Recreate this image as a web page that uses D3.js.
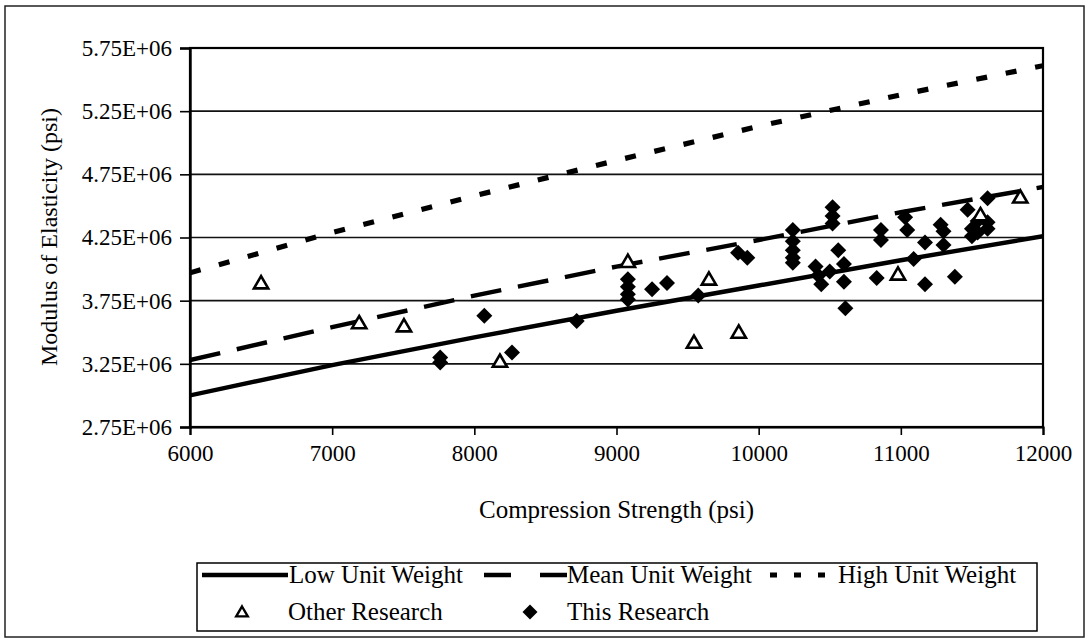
<!DOCTYPE html>
<html><head><meta charset="utf-8">
<script src="https://cdn.jsdelivr.net/npm/d3@7"></script>
<style>
html,body{margin:0;padding:0;background:#fff;}
text{font-family:"Liberation Serif","Times New Roman",serif;fill:#000;}
</style></head>
<body><svg id="chart" width="1088" height="639"></svg>
<script>
// ---- data ----
const xTicks = [6000, 7000, 8000, 9000, 10000, 11000, 12000];
const yTicks = [2750000, 3250000, 3750000, 4250000, 4750000, 5250000, 5750000];
const yTickLabels = ["2.75E+06","3.25E+06","3.75E+06","4.25E+06","4.75E+06","5.25E+06","5.75E+06"];

const lineStrength = [6000, 7000, 8000, 9000, 10000, 11000, 12000];
const lowWeight  = [3000000, 3240000, 3460000, 3670000, 3870000, 4070000, 4260000];
const meanWeight = [3280000, 3540000, 3790000, 4020000, 4230000, 4450000, 4650000];
const highWeight = [3970000, 4290000, 4580000, 4860000, 5130000, 5380000, 5610000];

const otherX = [6500, 7190, 7505, 8180, 9080, 9650, 9545, 9860, 10980, 11840, 11560];
const otherY = [3890000, 3575000, 3550000, 3270000, 4060000, 3920000, 3420000, 3500000, 3960000, 4570000, 4430000];

const thisX = [7760, 7760, 8070, 8265, 8720, 9080, 9080, 9080, 9080, 9250, 9355, 9575, 9855, 9920,
  10240, 10240, 10240, 10240, 10240, 10400, 10420, 10440, 10500, 10520, 10520, 10520, 10560, 10600, 10600, 10610,
  10830, 10860, 10860, 11030, 11045, 11090, 11170, 11170, 11280, 11300, 11300, 11380, 11470, 11500, 11500,
  11540, 11540, 11610, 11610, 11610];
const thisY = [3300000, 3260000, 3630000, 3340000, 3590000, 3920000, 3860000, 3800000, 3760000, 3840000, 3890000, 3790000, 4130000, 4090000,
  4310000, 4220000, 4150000, 4090000, 4050000, 4020000, 3950000, 3880000, 3980000, 4490000, 4420000, 4360000, 4150000, 4040000, 3900000, 3690000,
  3930000, 4310000, 4230000, 4410000, 4310000, 4080000, 4210000, 3880000, 4350000, 4300000, 4190000, 3940000, 4470000, 4320000, 4260000,
  4380000, 4290000, 4560000, 4370000, 4320000];

const seriesNames = ["Low Unit Weight", "Mean Unit Weight", "High Unit Weight", "Other Research", "This Research"];
const xTitle = "Compression Strength (psi)";
const yTitle = "Modulus of Elasticity (psi)";

// ---- layout ----
const svg = d3.select("#chart");
const L = 190, R = 1043, T = 48, B = 427;
const x = d3.scaleLinear().domain([6000, 12000]).range([L, R]);
const y = d3.scaleLinear().domain([2750000, 5750000]).range([B, T]);

// outer frame
svg.append("rect").attr("x", 5).attr("y", 6).attr("width", 1079).attr("height", 631)
  .attr("fill", "none").attr("stroke", "#222").attr("stroke-width", 1.5);

// gridlines
svg.append("g").selectAll("line").data(yTicks).join("line")
  .attr("x1", L).attr("x2", R).attr("y1", d => y(d)).attr("y2", d => y(d))
  .attr("stroke", "#111").attr("stroke-width", 1.6);

// plot frame
svg.append("rect").attr("x", L).attr("y", T).attr("width", R - L).attr("height", B - T)
  .attr("fill", "none").attr("stroke", "#000").attr("stroke-width", 2.2);

// axes
const yAxis = d3.axisLeft(y).tickValues(yTicks).tickSize(10).tickPadding(8)
  .tickFormat((d, i) => yTickLabels[i]);
const gy = svg.append("g").attr("transform", `translate(${L},0)`).call(yAxis);
gy.select(".domain").attr("stroke-width", 2.4);
gy.selectAll(".tick line").attr("stroke-width", 1.6);
gy.selectAll("text").style("font-size", "23px");

const xAxis = d3.axisBottom(x).tickValues(xTicks).tickSize(8).tickPadding(10).tickFormat(d3.format("d"));
const gx = svg.append("g").attr("transform", `translate(0,${B})`).call(xAxis);
gx.select(".domain").attr("stroke-width", 2.2);
gx.selectAll(".tick line").attr("stroke-width", 1.6);
gx.selectAll("text").style("font-size", "23px");

// titles
svg.append("text").attr("x", (L + R) / 2).attr("y", 518).attr("text-anchor", "middle")
  .style("font-size", "25px").text(xTitle);
svg.append("text").attr("transform", "translate(57,237) rotate(-90)").attr("text-anchor", "middle")
  .style("font-size", "24px").text(yTitle);

// lines
const styles = [
  {w: 4.4, dash: null},
  {w: 4.4, dash: "31,17"},
  {w: 5.2, dash: "11,19"}
];
const lineData = [lowWeight, meanWeight, highWeight];
const lineGen = d3.line().x(d => x(d[0])).y(d => y(d[1]));
svg.append("clipPath").attr("id", "pc").append("rect")
  .attr("x", L).attr("y", T).attr("width", R - L).attr("height", B - T);
lineData.forEach((vals, i) => {
  svg.append("path").attr("clip-path", "url(#pc)")
    .datum(lineStrength.map((s, j) => [s, vals[j]]))
    .attr("d", lineGen).attr("fill", "none").attr("stroke", "#000")
    .attr("stroke-width", styles[i].w).attr("stroke-dasharray", styles[i].dash);
});

// markers
const diamond = (s) => `M0,${-s}L${s},0L0,${s}L${-s},0Z`;
const tri = (s) => `M0,${-s}L${s*1.05},${s*0.8}L${-s*1.05},${s*0.8}Z`;

svg.append("g").selectAll("path").data(thisX.map((v, i) => [v, thisY[i]])).join("path")
  .attr("transform", d => `translate(${x(d[0])},${y(d[1])})`)
  .attr("d", diamond(8)).attr("fill", "#000");

svg.append("g").selectAll("path").data(otherX.map((v, i) => [v, otherY[i]])).join("path")
  .attr("transform", d => `translate(${x(d[0])},${y(d[1])})`)
  .attr("d", tri(6.8)).attr("fill", "#fff").attr("stroke", "#000").attr("stroke-width", 2.6);

// legend
const lg = svg.append("g");
lg.append("rect").attr("x", 197).attr("y", 563).attr("width", 840).attr("height", 68)
  .attr("fill", "#fff").attr("stroke", "#000").attr("stroke-width", 1.5);
const row1 = 575, row2 = 612, fs = "25px";
// low
lg.append("line").attr("x1", 202).attr("x2", 288).attr("y1", row1).attr("y2", row1)
  .attr("stroke", "#000").attr("stroke-width", 4.4);
lg.append("text").attr("x", 289).attr("y", row1 + 8).style("font-size", fs).text(seriesNames[0]);
// mean
lg.append("line").attr("x1", 484).attr("x2", 567).attr("y1", row1).attr("y2", row1)
  .attr("stroke", "#000").attr("stroke-width", 4.4).attr("stroke-dasharray", "27,29");
lg.append("text").attr("x", 567).attr("y", row1 + 8).style("font-size", fs).text(seriesNames[1]);
// high
lg.append("line").attr("x1", 770).attr("x2", 826).attr("y1", row1).attr("y2", row1)
  .attr("stroke", "#000").attr("stroke-width", 5.2).attr("stroke-dasharray", "7,17");
lg.append("text").attr("x", 838).attr("y", row1 + 8).style("font-size", fs).text(seriesNames[2]);
// other
lg.append("path").attr("transform", `translate(242,${row2})`).attr("d", tri(5.5))
  .attr("fill", "#fff").attr("stroke", "#000").attr("stroke-width", 2.4);
lg.append("text").attr("x", 288).attr("y", row2 + 8).style("font-size", fs).text(seriesNames[3]);
// this
lg.append("path").attr("transform", `translate(530,${row2})`).attr("d", diamond(7.5)).attr("fill", "#000");
lg.append("text").attr("x", 567).attr("y", row2 + 8).style("font-size", fs).text(seriesNames[4]);
</script></body></html>
